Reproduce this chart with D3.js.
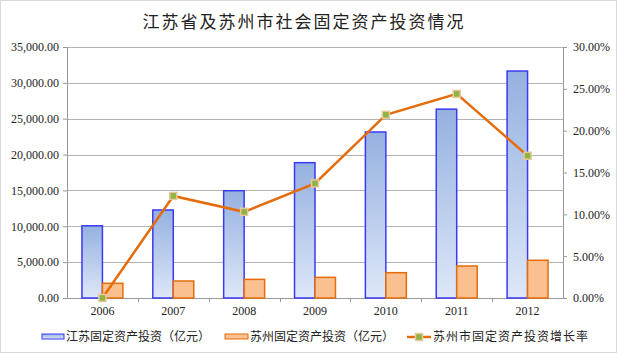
<!DOCTYPE html>
<html>
<head>
<meta charset="utf-8">
<script src="https://cdn.jsdelivr.net/npm/d3@7"></script>
<style>
  body { margin: 0; background: #fff; }
</style>
</head>
<body>
<svg id="svg"></svg>
<script>
const years = ['2006', '2007', '2008', '2009', '2010', '2011', '2012'];
const jiangsuInvest = [10069, 12270, 14960, 18870, 23150, 26330, 31650];
const suzhouInvest = [2050, 2370, 2600, 2880, 3530, 4460, 5260];
const suzhouGrowth = [0.0, 12.2, 10.3, 13.7, 21.9, 24.4, 17.0];
const leftTicks = [0, 5000, 10000, 15000, 20000, 25000, 30000, 35000];
const rightTicks = [0, 5, 10, 15, 20, 25, 30];
const seriesNames = ['江苏固定资产投资（亿元）', '苏州固定资产投资（亿元）', '苏州市固定资产投资增长率'];

const width = 617, height = 353;
const margin = {top: 47, left: 67, right: 54, bottom: 55};
const innerW = width - margin.left - margin.right;
const innerH = height - margin.top - margin.bottom;
const numFont = "'Liberation Serif', 'Times New Roman', serif";
const cjkFont = "'Noto Sans CJK SC', sans-serif";

const svg = d3.select('#svg').attr('width', width).attr('height', height);

// gradient for Jiangsu bars
const defs = svg.append('defs');
const grad = defs.append('linearGradient')
    .attr('id', 'blueGrad')
    .attr('x1', 0).attr('y1', 0).attr('x2', 0).attr('y2', 1);
grad.append('stop').attr('offset', '0%').attr('stop-color', '#95B1E0');
grad.append('stop').attr('offset', '100%').attr('stop-color', '#DEE7F8');

svg.append('rect')
    .attr('x', 0.5).attr('y', 0.5)
    .attr('width', width - 1).attr('height', height - 1)
    .attr('fill', '#fff').attr('stroke', '#D9D9D9');

svg.append('text')
    .style('font-family', cjkFont)
    .attr('fill', '#222')
    .attr('x', 304).attr('y', 28)
    .attr('text-anchor', 'middle')
    .attr('font-size', 17)
    .attr('letter-spacing', 2)
    .text('江苏省及苏州市社会固定资产投资情况');

const g = svg.append('g')
    .attr('transform', 'translate(' + margin.left + ',' + margin.top + ')');

const x = d3.scaleBand().domain(years).range([0, innerW]);
const x1 = d3.scaleBand().domain(['js', 'sz']).range([0, x.bandwidth()]).paddingOuter(0.73);
const yLeft = d3.scaleLinear().domain([0, 35000]).range([innerH, 0]);
const yRight = d3.scaleLinear().domain([0, 30]).range([innerH, 0]);

// gridlines
g.append('g')
    .selectAll('line')
    .data(leftTicks.slice(1))
    .enter().append('line')
    .attr('x1', 0).attr('x2', innerW)
    .attr('y1', d => Math.round(yLeft(d)) + 0.5)
    .attr('y2', d => Math.round(yLeft(d)) + 0.5)
    .attr('stroke', '#B3B3B3');

// left axis
const leftAxis = g.append('g')
    .call(d3.axisLeft(yLeft).tickValues(leftTicks).tickSize(4).tickPadding(4)
        .tickFormat(d3.format(',.2f')));

// right axis
const rightAxis = g.append('g')
    .attr('transform', 'translate(' + innerW + ',0)')
    .call(d3.axisRight(yRight).tickValues(rightTicks).tickSize(4).tickPadding(6)
        .tickFormat(d => d.toFixed(2) + '%'));

// bottom axis
const bottomAxis = g.append('g')
    .attr('transform', 'translate(0,' + innerH + ')')
    .call(d3.axisBottom(x).tickSize(0).tickPadding(8));
bottomAxis.append('g')
    .selectAll('line')
    .data(years.slice(1))
    .enter().append('line')
    .attr('x1', d => Math.round(x(d)) + 0.5)
    .attr('x2', d => Math.round(x(d)) + 0.5)
    .attr('y1', 0).attr('y2', 4)
    .attr('stroke', '#999');

[leftAxis, rightAxis, bottomAxis].forEach(a => {
    a.selectAll('.domain').attr('stroke', '#999');
    a.selectAll('.tick line').attr('stroke', '#999');
    a.selectAll('text')
        .attr('fill', '#222')
        .style('font-family', numFont)
        .style('font-size', '12px');
});

// bars
const groups = g.append('g')
    .selectAll('g')
    .data(years)
    .enter().append('g')
    .attr('transform', d => 'translate(' + x(d) + ',0)');

groups.append('rect')
    .attr('x', x1('js'))
    .attr('width', x1.bandwidth())
    .attr('y', (d, i) => yLeft(jiangsuInvest[i]))
    .attr('height', (d, i) => innerH - yLeft(jiangsuInvest[i]))
    .attr('fill', 'url(#blueGrad)')
    .attr('stroke', '#3A3AF5')
    .attr('stroke-width', 1.5);

groups.append('rect')
    .attr('x', x1('sz'))
    .attr('width', x1.bandwidth())
    .attr('y', (d, i) => yLeft(suzhouInvest[i]))
    .attr('height', (d, i) => innerH - yLeft(suzhouInvest[i]))
    .attr('fill', '#FAC090')
    .attr('stroke', '#E46C0A')
    .attr('stroke-width', 1.5);

// growth line
const line = d3.line()
    .x((d, i) => x(years[i]) + x.bandwidth() / 2)
    .y(d => yRight(d));

g.append('path')
    .datum(suzhouGrowth)
    .attr('d', line)
    .attr('fill', 'none')
    .attr('stroke', '#E46C0A')
    .attr('stroke-width', 2.5);

g.append('g')
    .selectAll('rect')
    .data(suzhouGrowth)
    .enter().append('rect')
    .attr('x', (d, i) => x(years[i]) + x.bandwidth() / 2 - 3.5)
    .attr('y', d => yRight(d) - 3.5)
    .attr('width', 7).attr('height', 7)
    .attr('fill', '#8DB543')
    .attr('stroke', '#E8C89A')
    .attr('stroke-width', 1.5);

// legend
const legend = svg.append('g')
    .style('font-family', cjkFont)
    .attr('font-size', 12)
    .attr('fill', '#222');
const ly = 337;

legend.append('rect')
    .attr('x', 42).attr('y', ly - 3).attr('width', 22).attr('height', 5)
    .attr('fill', 'url(#blueGrad)').attr('stroke', '#3A3AF5');
legend.append('text').attr('x', 66).attr('y', ly).attr('dy', '0.35em').text(seriesNames[0]);

legend.append('rect')
    .attr('x', 225).attr('y', ly - 3).attr('width', 23).attr('height', 5)
    .attr('fill', '#FAC090').attr('stroke', '#E46C0A');
legend.append('text').attr('x', 250).attr('y', ly).attr('dy', '0.35em').text(seriesNames[1]);

legend.append('line')
    .attr('x1', 407).attr('x2', 431).attr('y1', ly).attr('y2', ly)
    .attr('stroke', '#E46C0A').attr('stroke-width', 2.5);
legend.append('rect')
    .attr('x', 415.5).attr('y', ly - 3.5).attr('width', 7).attr('height', 7)
    .attr('fill', '#8DB543').attr('stroke', '#E8C89A').attr('stroke-width', 1.5);
legend.append('text').attr('x', 433).attr('y', ly).attr('dy', '0.35em')
    .attr('letter-spacing', 1).text(seriesNames[2]);
</script>
</body>
</html>
